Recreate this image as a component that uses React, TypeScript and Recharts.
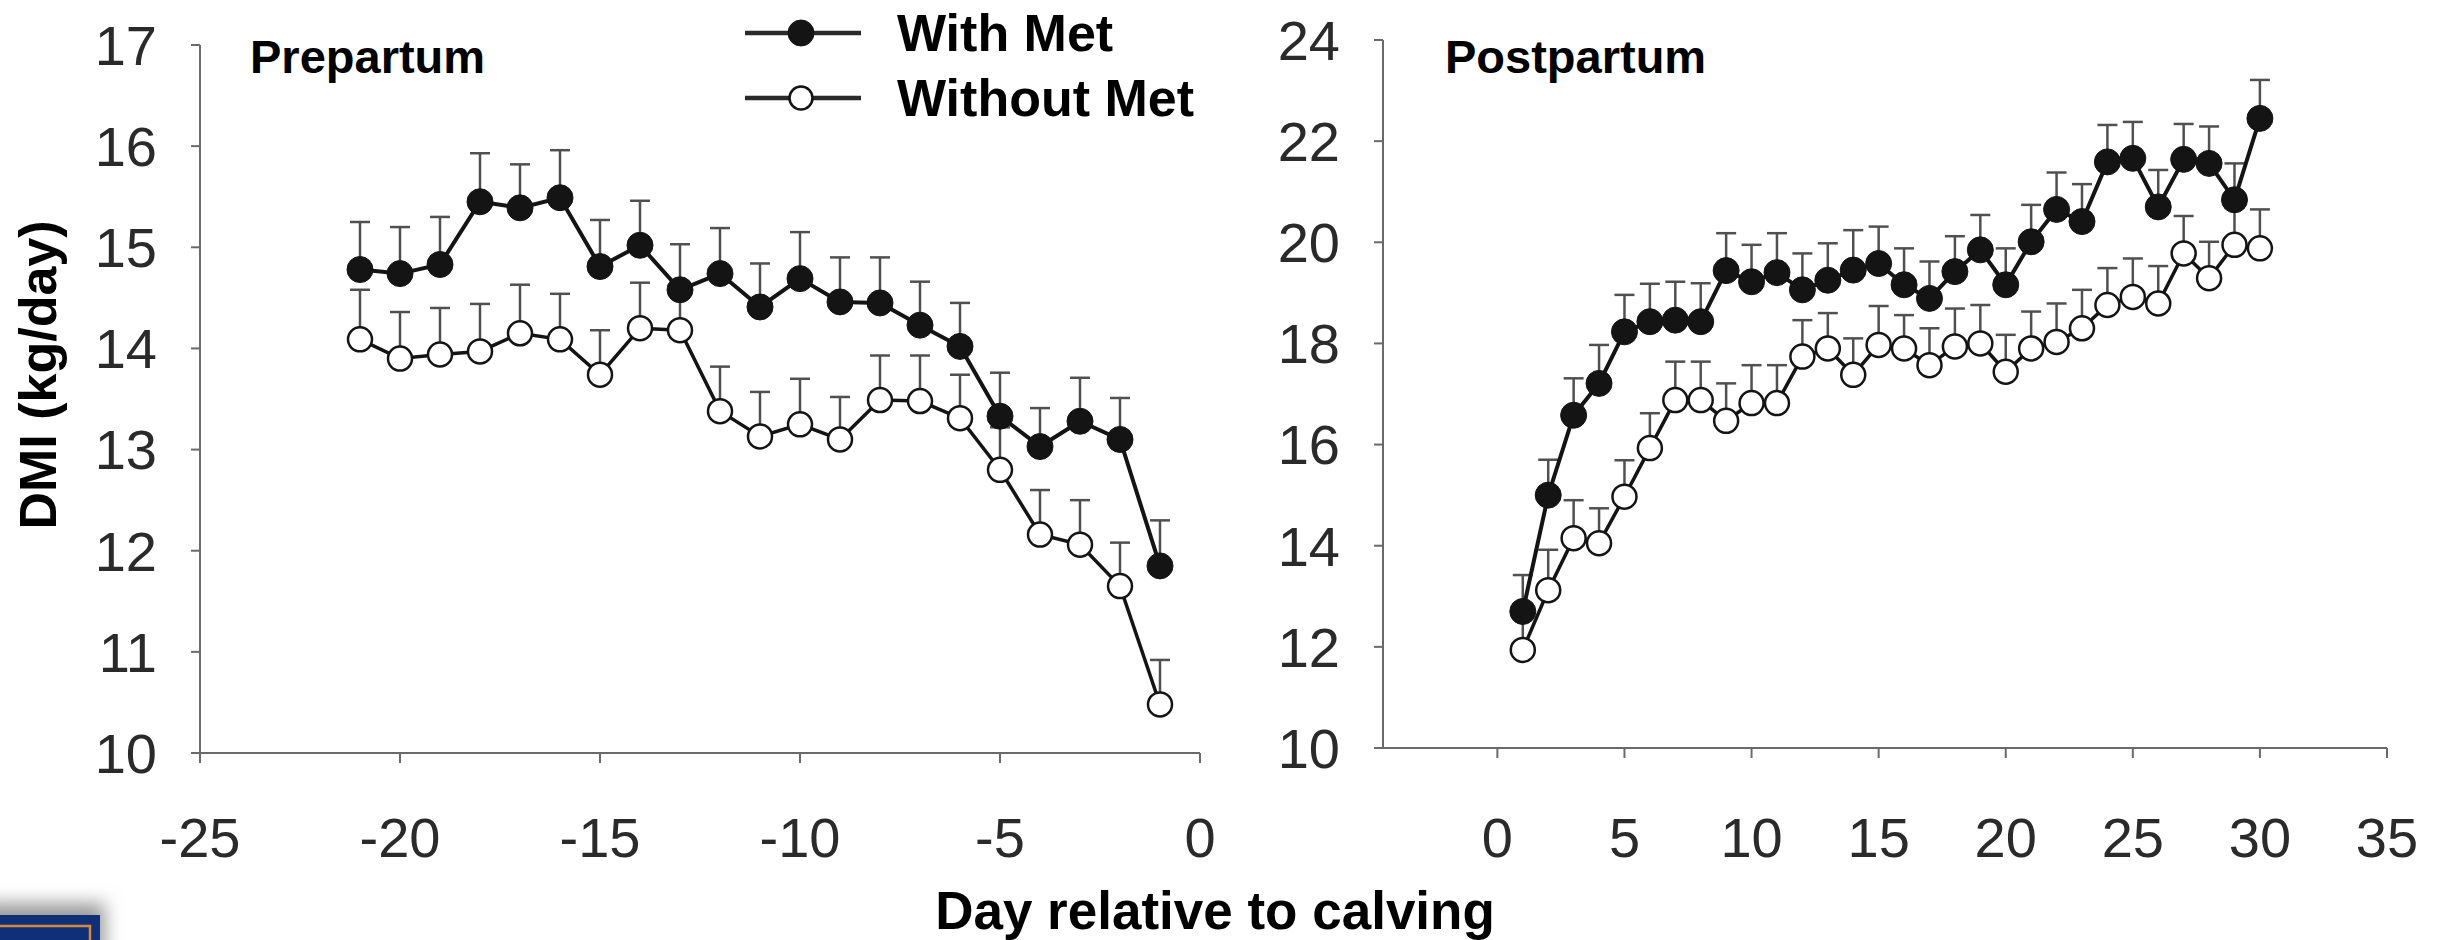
import React from 'react';
import { ComposedChart, Line, XAxis, YAxis, ErrorBar, Legend } from 'recharts';

// Prepartum (days -21 .. -1)
const preDays = [-21, -20, -19, -18, -17, -16, -15, -14, -13, -12, -11, -10, -9, -8, -7, -6, -5, -4, -3, -2, -1];
const preWithMet = [14.78, 14.74, 14.83, 15.45, 15.39, 15.49, 14.81, 15.02, 14.58, 14.74, 14.41, 14.69, 14.46, 14.45, 14.23, 14.02, 13.33, 13.03, 13.28, 13.1, 11.85];
const preWithMetSem = [0.47, 0.46, 0.47, 0.48, 0.43, 0.47, 0.46, 0.44, 0.45, 0.45, 0.43, 0.46, 0.44, 0.45, 0.43, 0.43, 0.43, 0.38, 0.43, 0.41, 0.45];
const preWithoutMet = [14.09, 13.9, 13.94, 13.97, 14.15, 14.09, 13.74, 14.2, 14.18, 13.38, 13.13, 13.25, 13.1, 13.49, 13.48, 13.31, 12.8, 12.16, 12.06, 11.65, 10.48];
const preWithoutMetSem = [0.49, 0.46, 0.46, 0.47, 0.48, 0.45, 0.44, 0.45, 0.44, 0.44, 0.44, 0.45, 0.42, 0.44, 0.45, 0.43, 0.42, 0.44, 0.44, 0.43, 0.44];

// Postpartum (days 1 .. 30)
const postDays = [1, 2, 3, 4, 5, 6, 7, 8, 9, 10, 11, 12, 13, 14, 15, 16, 17, 18, 19, 20, 21, 22, 23, 24, 25, 26, 27, 28, 29, 30];
const postWithMet = [12.7, 15.0, 16.58, 17.21, 18.23, 18.43, 18.46, 18.43, 19.44, 19.22, 19.4, 19.06, 19.25, 19.45, 19.58, 19.16, 18.89, 19.42, 19.85, 19.16, 20.01, 20.65, 20.41, 21.59, 21.66, 20.7, 21.64, 21.56, 20.84, 22.45];
const postWithMetSem = [0.72, 0.7, 0.73, 0.76, 0.73, 0.75, 0.76, 0.76, 0.74, 0.73, 0.78, 0.72, 0.73, 0.79, 0.73, 0.72, 0.73, 0.7, 0.69, 0.72, 0.73, 0.73, 0.74, 0.73, 0.72, 0.73, 0.7, 0.73, 0.72, 0.76];
const postWithoutMet = [11.94, 13.12, 14.15, 14.05, 14.97, 15.93, 16.88, 16.88, 16.47, 16.82, 16.82, 17.74, 17.9, 17.38, 17.97, 17.9, 17.57, 17.94, 18.0, 17.44, 17.9, 18.03, 18.3, 18.76, 18.92, 18.79, 19.78, 19.29, 19.95, 19.88];
const postWithoutMetSem = [0.66, 0.8, 0.75, 0.69, 0.72, 0.69, 0.76, 0.76, 0.74, 0.75, 0.75, 0.72, 0.7, 0.72, 0.77, 0.66, 0.73, 0.75, 0.76, 0.73, 0.73, 0.76, 0.76, 0.73, 0.76, 0.74, 0.74, 0.72, 0.73, 0.77];

const preXTicks = [-25, -20, -15, -10, -5, 0];
const preYTicks = [10, 11, 12, 13, 14, 15, 16, 17];
const postXTicks = [0, 5, 10, 15, 20, 25, 30, 35];
const postYTicks = [10, 12, 14, 16, 18, 20, 22, 24];

const seriesNames = ['With Met', 'Without Met'];

const preRows = preDays.map((day, i) => ({
  day,
  withMet: preWithMet[i],
  withErr: [0, preWithMetSem[i]],
  withoutMet: preWithoutMet[i],
  withoutErr: [0, preWithoutMetSem[i]],
}));

const postRows = postDays.map((day, i) => ({
  day,
  withMet: postWithMet[i],
  withErr: [0, postWithMetSem[i]],
  withoutMet: postWithoutMet[i],
  withoutErr: [0, postWithoutMetSem[i]],
}));

const FONT = '"Liberation Sans", Arial, Helvetica, sans-serif';
const INK = '#141414';
const AXIS = '#6a6a6a';
const tickStyle = { fontSize: 56, fill: '#2a2a2a', fontFamily: FONT };

function LegendBox() {
  const rows = [
    { y: 33, filled: true, name: seriesNames[0] },
    { y: 98, filled: false, name: seriesNames[1] },
  ];
  return (
    <svg width={470} height={130} style={{ display: 'block' }}>
      {rows.map((r) => (
        <g key={r.name}>
          <line x1={5} x2={121} y1={r.y} y2={r.y} stroke="#2a2a2a" strokeWidth={4.5} />
          <circle
            cx={61}
            cy={r.y}
            r={r.filled ? 13 : 11.5}
            fill={r.filled ? INK : '#fff'}
            stroke={INK}
            strokeWidth={r.filled ? 1 : 2.5}
          />
          <text x={157} y={r.y + 18} fontFamily={FONT} fontWeight="bold" fontSize={52} fill="#000">
            {r.name}
          </text>
        </g>
      ))}
    </svg>
  );
}

// open markers first, filled series drawn over them
function seriesLines() {
  return [
    <Line
      key="without"
      dataKey="withoutMet"
      name={seriesNames[1]}
      stroke={INK}
      strokeWidth={3.5}
      dot={{ r: 12, fill: '#fff', stroke: INK, strokeWidth: 2.5 }}
      activeDot={false}
      isAnimationActive={false}
    >
      <ErrorBar dataKey="withoutErr" direction="y" width={10} stroke="#505050" strokeWidth={2.5} isAnimationActive={false} />
    </Line>,
    <Line
      key="with"
      dataKey="withMet"
      name={seriesNames[0]}
      stroke={INK}
      strokeWidth={4}
      dot={{ r: 13, fill: INK, stroke: INK, strokeWidth: 1 }}
      activeDot={false}
      isAnimationActive={false}
    >
      <ErrorBar dataKey="withErr" direction="y" width={10} stroke="#505050" strokeWidth={2.5} isAnimationActive={false} />
    </Line>,
  ];
}

export default function App() {
  return (
    <div style={{ position: 'absolute', left: 0, top: 0, width: 2451, height: 940, background: '#fff', overflow: 'hidden' }}>
      <div style={{ position: 'absolute', left: 0, top: 0 }}>
        <ComposedChart width={1260} height={940} data={preRows} margin={{ top: 45, right: 60, bottom: 87, left: 0 }}>
          <XAxis
            type="number"
            dataKey="day"
            domain={[-25, 0]}
            ticks={preXTicks}
            interval={0}
            allowDataOverflow
            height={100}
            tickSize={10}
            tickMargin={54}
            axisLine={{ stroke: AXIS, strokeWidth: 2 }}
            tickLine={{ stroke: AXIS, strokeWidth: 2 }}
            tick={tickStyle}
          />
          <YAxis
            type="number"
            domain={[10, 17]}
            ticks={preYTicks}
            interval={0}
            allowDataOverflow
            width={200}
            tickSize={9}
            tickMargin={34}
            axisLine={{ stroke: AXIS, strokeWidth: 2 }}
            tickLine={{ stroke: AXIS, strokeWidth: 2 }}
            tick={tickStyle}
          />
          {seriesLines()}
          <Legend
            layout="vertical"
            align="center"
            verticalAlign="middle"
            wrapperStyle={{ left: 740, top: 0, width: 470, height: 130 }}
            content={() => <LegendBox />}
          />
        </ComposedChart>
      </div>

      <div style={{ position: 'absolute', left: 1240, top: 0 }}>
        <ComposedChart width={1211} height={940} data={postRows} margin={{ top: 40, right: 64, bottom: 92, left: 0 }}>
          <XAxis
            type="number"
            dataKey="day"
            domain={[-4.5, 35]}
            ticks={postXTicks}
            interval={0}
            allowDataOverflow
            height={100}
            tickSize={10}
            tickMargin={59}
            axisLine={{ stroke: AXIS, strokeWidth: 2 }}
            tickLine={{ stroke: AXIS, strokeWidth: 2 }}
            tick={tickStyle}
          />
          <YAxis
            type="number"
            domain={[10, 24]}
            ticks={postYTicks}
            interval={0}
            allowDataOverflow
            width={143}
            tickSize={9}
            tickMargin={34}
            axisLine={{ stroke: AXIS, strokeWidth: 2 }}
            tickLine={{ stroke: AXIS, strokeWidth: 2 }}
            tick={tickStyle}
          />
          {seriesLines()}
        </ComposedChart>
      </div>

      {/* panel titles, shared axis titles and the clipped logo corner */}
      <svg width={2451} height={940} style={{ position: 'absolute', left: 0, top: 0, pointerEvents: 'none' }}>
        <defs>
          <filter id="shadow" x="-50%" y="-50%" width="200%" height="200%">
            <feGaussianBlur stdDeviation="9" />
          </filter>
        </defs>
        <text x={250} y={73} fontFamily={FONT} fontWeight="bold" fontSize={47} fill="#000">Prepartum</text>
        <text x={1445} y={73} fontFamily={FONT} fontWeight="bold" fontSize={47} fill="#000">Postpartum</text>
        <text
          transform="translate(56, 375) rotate(-90)"
          textAnchor="middle"
          fontFamily={FONT}
          fontWeight="bold"
          fontSize={52}
          fill="#000"
        >
          DMI (kg/day)
        </text>
        <text x={1215} y={929} textAnchor="middle" fontFamily={FONT} fontWeight="bold" fontSize={53} fill="#000">
          Day relative to calving
        </text>
        <rect x={-20} y={903} width={125} height={60} fill="#9a9a9a" filter="url(#shadow)" />
        <rect x={0} y={915} width={100} height={30} fill="#0f2f78" />
        <polyline points="0,926 90,926 90,945" fill="none" stroke="#d8883a" strokeWidth={2.5} />
      </svg>
    </div>
  );
}
